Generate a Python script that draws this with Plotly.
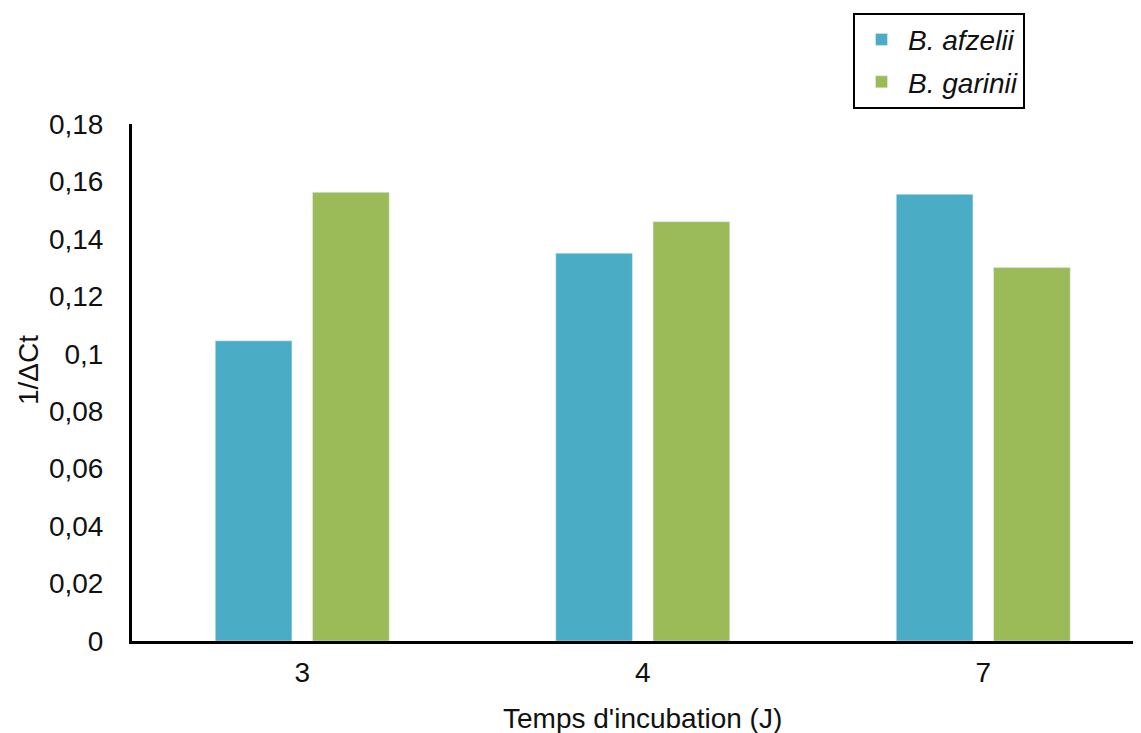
import plotly.graph_objects as go

categories = ["3", "4", "7"]
afzelii = [0.1045, 0.135, 0.1555]
garinii = [0.1562, 0.146, 0.130]
series_names = ["B. afzelii", "B. garinii"]
y_tickvals = [0, 0.02, 0.04, 0.06, 0.08, 0.1, 0.12, 0.14, 0.16, 0.18]
y_ticktext = ["0", "0,02", "0,04", "0,06", "0,08", "0,1", "0,12", "0,14", "0,16", "0,18"]
x_title = "Temps d'incubation (J)"
y_title = "1/ΔCt"

FONT = "Liberation Sans, Arial, sans-serif"
OFF = 8  # page body margin
W, H = 1141, 733
L, T = 132 - OFF, 124 - OFF
R = 0
ph = 641 - 124
B = H - T - ph
pw = W - L - R

def px_x(x):
    return (x - OFF - L) / pw

def px_y(y):
    return (641 - y) / ph

xr0 = -0.5
xr1 = xr0 + pw / 340.5

fig = go.Figure()
fig.add_bar(x=categories, y=afzelii, name="<i>" + series_names[0] + "</i>",
            marker_color="#4BACC6", legendgroup="a")
fig.add_bar(x=categories, y=garinii, name="<i>" + series_names[1] + "</i>",
            marker_color="#9BBB59", legendgroup="g")

fig.update_layout(
    width=W, height=H,
    margin=dict(l=L, r=R, t=T, b=B),
    paper_bgcolor="white", plot_bgcolor="white",
    font=dict(family=FONT, size=28, color="#111111"),
    barmode="group", bargap=0.4285, bargroupgap=0.212,
    showlegend=True,
    legend=dict(
        x=px_x(853), y=px_y(12.7), xanchor="left", yanchor="top",
        bordercolor="black", borderwidth=2, bgcolor="white",
        font=dict(family=FONT, size=28, color="#111111"),
        tracegroupgap=3, traceorder="grouped", itemwidth=43,
    ),
    xaxis=dict(
        type="category", range=[xr0, xr1],
        showline=True, linecolor="black", linewidth=3,
        showgrid=False, ticks="", ticklabelstandoff=4,
        tickfont=dict(size=28),
    ),
    yaxis=dict(
        range=[0, 0.18], tickvals=y_tickvals, ticktext=y_ticktext,
        showline=True, linecolor="black", linewidth=3,
        showgrid=False, zeroline=False, ticks="", ticklabelstandoff=20,
        tickfont=dict(size=28),
    ),
    annotations=[
        dict(text=x_title, xref="paper", yref="paper",
             x=px_x(642.5), y=px_y(718), xanchor="center", yanchor="middle",
             showarrow=False, font=dict(size=28)),
        dict(text=y_title, xref="paper", yref="paper", textangle=-90,
             x=px_x(28), y=px_y(370), xanchor="center", yanchor="middle",
             showarrow=False, font=dict(size=28)),
    ],
)

fig.write_html("out.html")
